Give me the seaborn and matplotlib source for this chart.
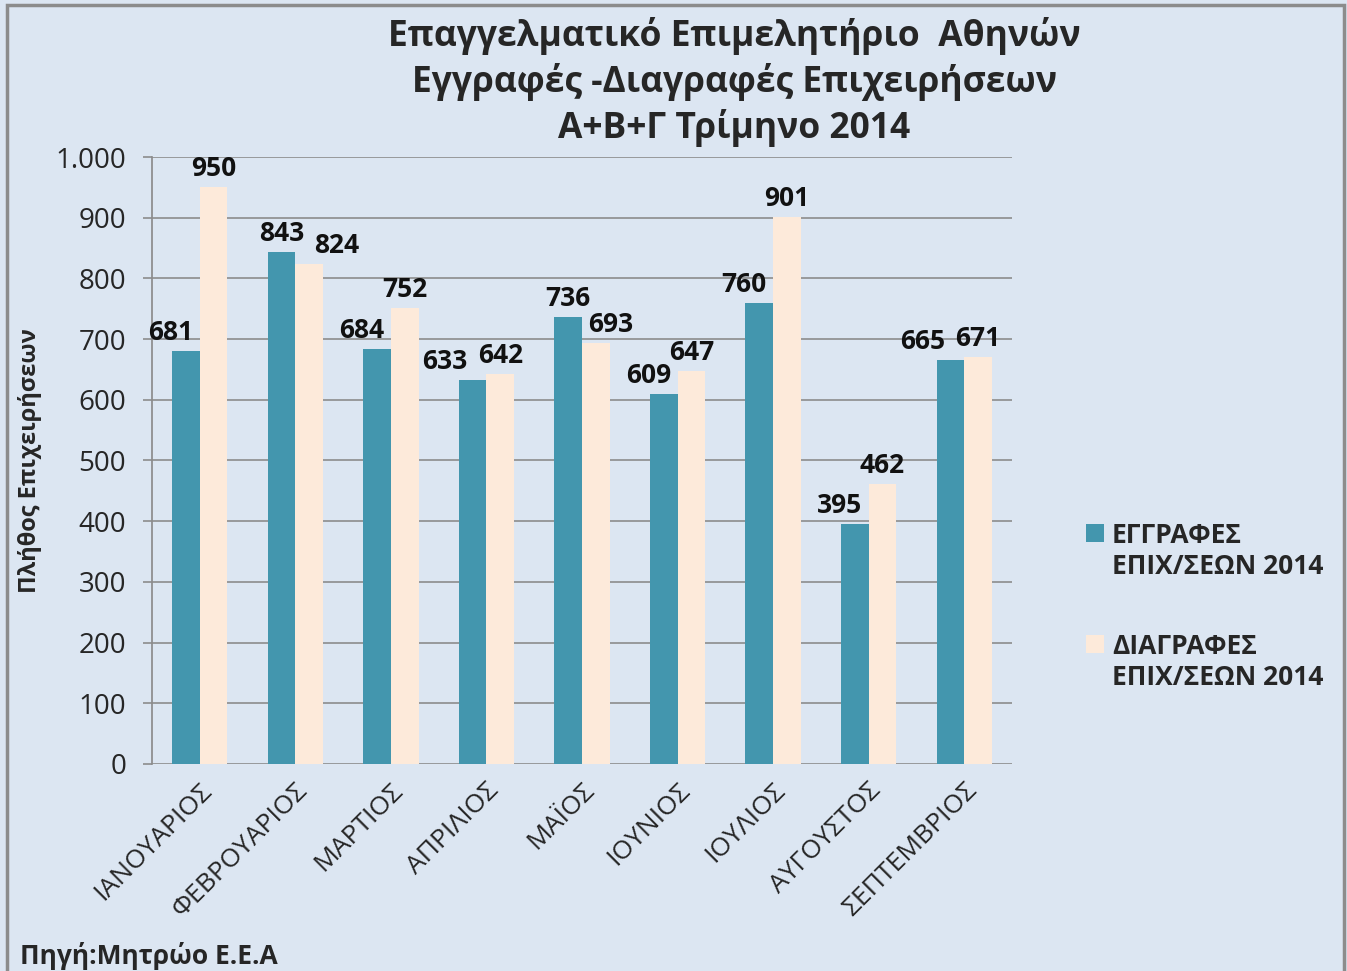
import pandas as pd
import matplotlib.pyplot as plt
import seaborn as sns
from matplotlib.ticker import FuncFormatter
from matplotlib.patches import Rectangle
from matplotlib.legend_handler import HandlerPatch

# Data
months = ['ΙΑΝΟΥΑΡΙΟΣ', 'ΦΕΒΡΟΥΑΡΙΟΣ', 'ΜΑΡΤΙΟΣ', 'ΑΠΡΙΛΙΟΣ', 'ΜΑΪΟΣ',
          'ΙΟΥΝΙΟΣ', 'ΙΟΥΛΙΟΣ', 'ΑΥΓΟΥΣΤΟΣ', 'ΣΕΠΤΕΜΒΡΙΟΣ']
registrations = [681, 843, 684, 633, 736, 609, 760, 395, 665]
deletions = [950, 824, 752, 642, 693, 647, 901, 462, 671]
series_names = ['ΕΓΓΡΑΦΕΣ\nΕΠΙΧ/ΣΕΩΝ 2014', 'ΔΙΑΓΡΑΦΕΣ\nΕΠΙΧ/ΣΕΩΝ 2014']

df = pd.DataFrame({
    'Μήνας': months * 2,
    'Πλήθος': registrations + deletions,
    'Σειρά': [series_names[0]] * len(months) + [series_names[1]] * len(months),
})

sns.set_theme(style="white")
plt.rcParams['font.family'] = ['Open Sans', 'DejaVu Sans']

bg = '#DCE6F2'
fig = plt.figure(figsize=(13.47, 9.71), dpi=100, facecolor=bg)
ax = fig.add_axes([0.1128, 0.2132, 0.6385, 0.6251])
ax.set_facecolor(bg)

sns.barplot(data=df, x='Μήνας', y='Πλήθος', hue='Σειρά',
            palette=['#4396AE', '#FDEADA'], width=0.58, gap=0,
            saturation=1, ax=ax, edgecolor='none')

# Data labels: nudge the lower label of each pair outward so it clears the taller bar
teal, peach = ax.containers[0], ax.containers[1]
for i in range(len(months)):
    a, b = registrations[i], deletions[i]
    shift = 28 if abs(a - b) < 25 else 15
    dx_a = -shift if a < b else 0
    dx_b = shift if b < a else 0
    for bar, val, dx in ((teal[i], a, dx_a), (peach[i], b, dx_b)):
        ax.annotate(f'{val}', (bar.get_x() + bar.get_width() / 2, bar.get_height()),
                    xytext=(dx, 5), textcoords='offset pixels', ha='center', va='bottom',
                    fontsize=19, fontweight='bold', color='#111111')

ax.set_ylim(0, 1000)
ax.set_yticks(range(0, 1001, 100))
ax.yaxis.set_major_formatter(FuncFormatter(lambda v, _: f'{int(v):,}'.replace(',', '.')))
ax.grid(axis='y', color='#8C8C8C', linewidth=1.2)
ax.set_axisbelow(True)
for s in ['top', 'right', 'bottom']:
    ax.spines[s].set_visible(False)
ax.spines['left'].set_color('#8C8C8C')
ax.tick_params(axis='y', labelsize=20, length=6.5, width=1.2, color='#8C8C8C', left=True, pad=12)
ax.tick_params(axis='x', labelsize=19, length=0, pad=10)
plt.setp(ax.get_xticklabels(), rotation=45, ha='right', rotation_mode='anchor')

ax.set_xlabel('')
ax.set_ylabel('Πλήθος Επιχειρήσεων', fontsize=17, fontweight='bold', labelpad=10)


# Legend square sits beside the first line of each two-line label
def top_square(legend, orig_handle, xdescent, ydescent, width, height, fontsize):
    s = 0.68 * fontsize
    return Rectangle((-xdescent, 0.72 * fontsize), s, s)


ax.legend(title=None, loc='center left', bbox_to_anchor=(1.058, 0.26), frameon=False,
          labelspacing=2.0, handlelength=0.7, handleheight=0.8, handletextpad=0.3,
          prop={'weight': 'bold', 'size': 19},
          handler_map={plt.Rectangle: HandlerPatch(patch_func=top_square)})

fig.text(0.545, 0.982, 'Επαγγελματικό Επιμελητήριο  Αθηνών\nΕγγραφές -Διαγραφές Επιχειρήσεων\nΑ+Β+Γ Τρίμηνο 2014',
         ha='center', va='top', fontsize=25.5, fontweight='bold', linespacing=1.27)
fig.text(0.015, 0.001, 'Πηγή:Μητρώο Ε.Ε.Α', ha='left', va='bottom', fontsize=19, fontweight='bold')

# Chart border
fig.patches.append(Rectangle((0.005, -0.01), 0.993, 1.005, transform=fig.transFigure,
                             fill=False, edgecolor='#8C8C8C', linewidth=2.5))

fig.savefig('out.png', dpi=100, facecolor=bg)
